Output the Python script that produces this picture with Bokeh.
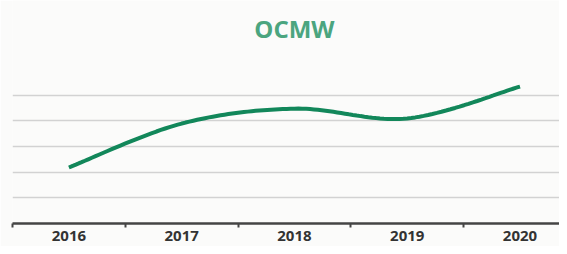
import numpy as np
from bokeh.plotting import figure
from bokeh.models import FixedTicker, Range1d
from bokeh.core.properties import value
from bokeh.embed import file_html
from bokeh.resources import INLINE

title_text = "OCMW"
years = ["2016", "2017", "2018", "2019", "2020"]
values = [2.18, 3.89, 4.47, 4.09, 5.33]
grid_ticks = [1, 2, 3, 4, 5]

xs = np.arange(len(years), dtype=float)
ys = np.array(values, dtype=float)

# Smooth (Catmull-Rom) rendering of the data series, like a spreadsheet "smoothed line"
def smooth(x, y, n=30):
    px = np.concatenate([[x[0]], x, [x[-1]]])
    py = np.concatenate([[y[0]], y, [y[-1]]])
    ox, oy = [], []
    for i in range(1, len(px) - 2):
        p0, p1, p2, p3 = (np.array([px[j], py[j]]) for j in (i - 1, i, i + 1, i + 2))
        c1 = p1 + (p2 - p0) / 6.0
        c2 = p2 - (p3 - p1) / 6.0
        t = np.linspace(0, 1, n)[:, None]
        b = ((1 - t) ** 3) * p1 + 3 * ((1 - t) ** 2) * t * c1 + 3 * (1 - t) * t ** 2 * c2 + t ** 3 * p2
        if i > 1:
            b = b[1:]
        ox.extend(b[:, 0]); oy.extend(b[:, 1])
    return ox, oy

sx, sy = smooth(xs, ys)

p = figure(width=559, height=246, output_backend="svg", toolbar_location=None,
           x_range=Range1d(-0.5, 4.35), y_range=Range1d(0, 8.68),
           min_border_left=12, min_border_right=0, min_border_top=0, min_border_bottom=23,
           background_fill_color="#FBFBFA", border_fill_color="#FBFBFA")
p.outline_line_color = None

# chart title, centred over the middle category, above the plotted values
p.text(x=[xs[len(xs) // 2]], y=[7.6], text=[title_text],
       text_align="center", text_baseline="alphabetic",
       text_font=value("Open Sans"), text_font_style="bold",
       text_font_size="24px", text_color="#4BA57F")

p.line(sx, sy, line_color="#12875A", line_width=4)

p.yaxis.visible = False
p.ygrid.ticker = FixedTicker(ticks=grid_ticks)
p.ygrid.grid_line_color = "#D2D2D2"
p.ygrid.grid_line_width = 1.5
p.xgrid.visible = False

ax = p.xaxis[0]
ax.ticker = FixedTicker(ticks=list(xs), minor_ticks=[-0.5, 0.5, 1.5, 2.5, 3.5])
ax.major_label_overrides = {i: y for i, y in enumerate(years)}
ax.major_tick_line_color = None
ax.minor_tick_line_color = "#444444"
ax.minor_tick_line_width = 2
ax.minor_tick_out = 4
ax.minor_tick_in = 0
ax.axis_line_color = "#444444"
ax.axis_line_width = 2.5
ax.major_label_text_font = "Open Sans"
ax.major_label_text_font_style = "bold"
ax.major_label_text_font_size = "15px"
ax.major_label_text_color = "#333333"
ax.major_label_standoff = 1

open("out.html", "w").write(file_html(p, INLINE))
